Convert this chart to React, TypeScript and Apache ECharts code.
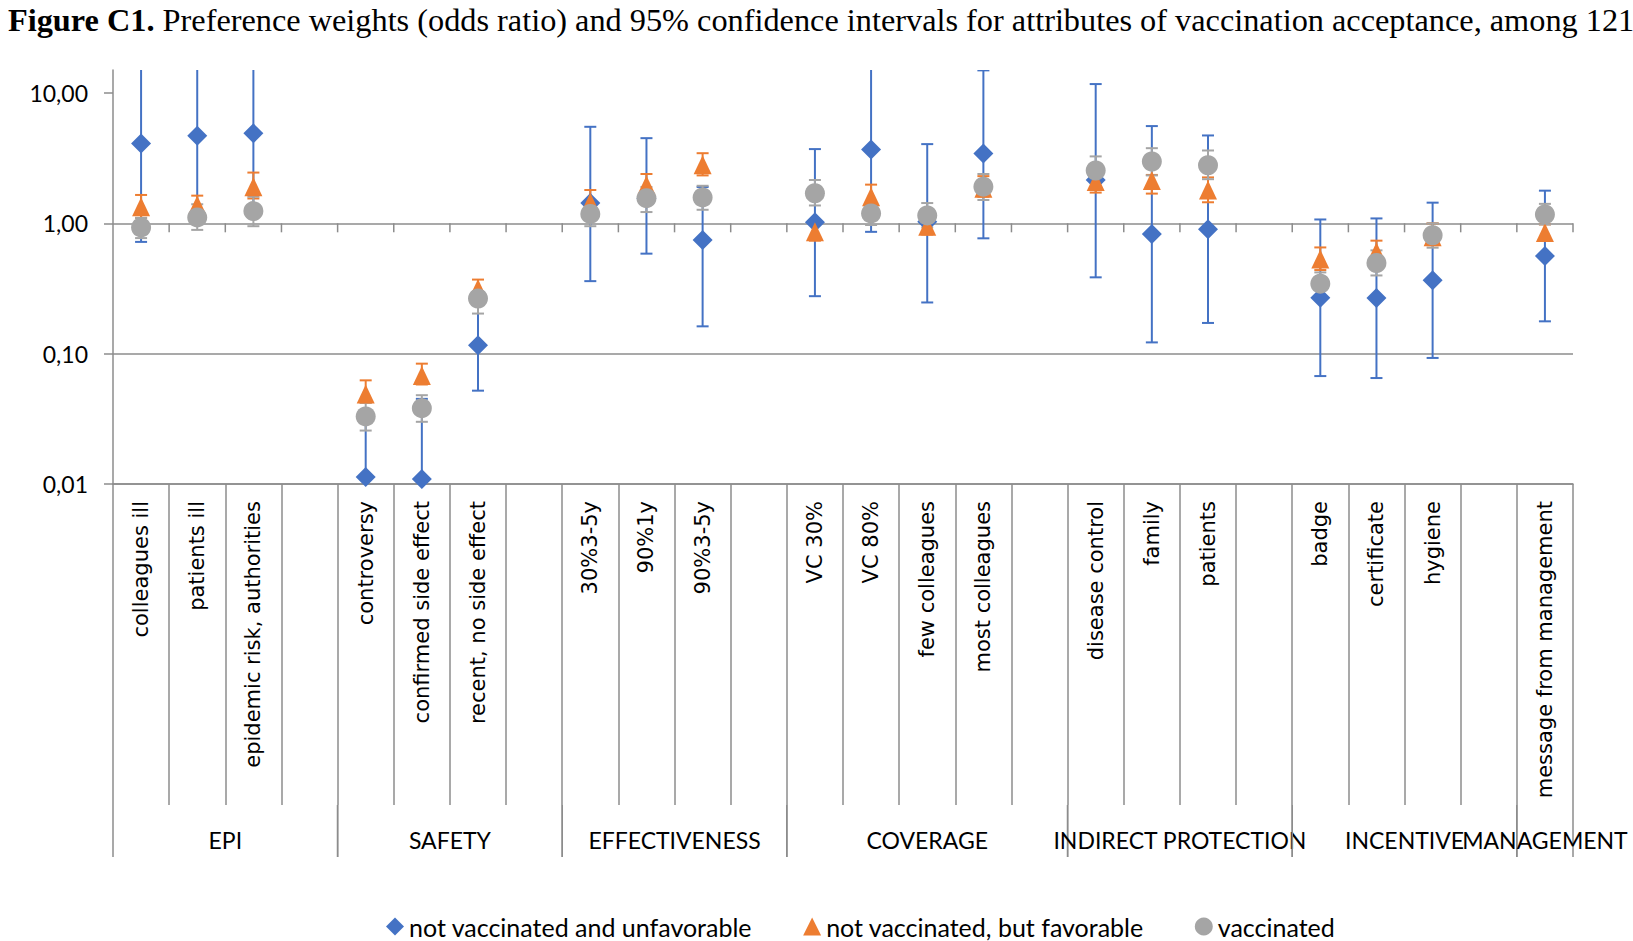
import React, { useEffect, useRef } from "react";
import * as echarts from "echarts";

const titleBold = "Figure C1.";
const titleRest =
  " Preference weights (odds ratio) and 95% confidence intervals for attributes of vaccination acceptance, among 121";

const categories = [
  "colleagues ill", "patients ill", "epidemic risk, authorities", "",
  "controversy", "confirmed side effect", "recent, no side effect", "",
  "30%3-5y", "90%1y", "90%3-5y", "",
  "VC 30%", "VC 80%", "few colleagues", "most colleagues", "",
  "disease control", "family", "patients", "",
  "badge", "certificate", "hygiene", "",
  "message from management",
];

const groupNames = ["EPI", "SAFETY", "EFFECTIVENESS", "COVERAGE", "INDIRECT PROTECTION", "INCENTIVE", "MANAGEMENT"];
const groupFirst = [0, 4, 8, 12, 17, 21, 25];
const groupLast = [3, 7, 11, 16, 20, 24, 25];

const yTicks = [0.01, 0.1, 1, 10];

const seriesNames = ["not vaccinated and unfavorable", "not vaccinated, but favorable", "vaccinated"];

// not vaccinated and unfavorable
const unfavOR = [4.1, 4.7, 4.9, null, 0.0113, 0.0109, 0.116, null, 1.43, 1.55, 0.745, null, 1.02, 3.69, 1.03, 3.43, null, 2.15, 0.828, 0.9, null, 0.268, 0.267, 0.366, null, 0.561];
const unfavLow = [0.72, 1.1, 1.3, null, 0.002, 0.002, 0.052, null, 0.36, 0.585, 0.162, null, 0.276, 0.86, 0.247, 0.767, null, 0.385, 0.122, 0.172, null, 0.0673, 0.065, 0.0927, null, 0.177];
const unfavHigh = [40, 40, 40, null, 0.035, 0.045, 0.24, null, 5.5, 4.5, 1.9, null, 3.71, 40, 4.05, 14.9, null, 11.7, 5.57, 4.72, null, 1.07, 1.09, 1.44, null, 1.78];

// not vaccinated, but favorable
const favOR = [1.34, 1.38, 1.91, null, 0.049, 0.068, 0.316, null, 1.45, 1.97, 2.81, null, 0.863, 1.6, 0.95, 1.86, null, 2.09, 2.13, 1.8, null, 0.532, 0.605, 0.79, null, 0.85];
const favLow = [1.1, 1.15, 1.55, null, 0.042, 0.058, 0.27, null, 1.2, 1.62, 2.33, null, 0.736, 1.3, 0.82, 1.6, null, 1.72, 1.69, 1.45, null, 0.438, 0.5, 0.68, null, 0.757];
const favHigh = [1.65, 1.63, 2.45, null, 0.0624, 0.0838, 0.37, null, 1.8, 2.39, 3.45, null, 1.0, 1.98, 1.1, 2.3, null, 2.5, 2.35, 2.25, null, 0.653, 0.736, 1.0, null, 0.98];

// vaccinated
const vacOR = [0.93, 1.11, 1.24, null, 0.033, 0.0382, 0.265, null, 1.18, 1.56, 1.58, null, 1.7, 1.19, 1.15, 1.91, null, 2.54, 2.98, 2.79, null, 0.344, 0.496, 0.81, null, 1.17];
const vacLow = [0.77, 0.89, 0.95, null, 0.0257, 0.03, 0.203, null, 0.95, 1.22, 1.27, null, 1.37, 0.97, 0.93, 1.51, null, 2.1, 2.33, 2.18, null, 0.28, 0.398, 0.65, null, 0.98];
const vacHigh = [1.1, 1.4, 1.6, null, 0.042, 0.048, 0.3, null, 1.47, 1.9, 1.94, null, 2.15, 1.4, 1.43, 2.39, null, 3.26, 3.77, 3.62, null, 0.42, 0.62, 1.0, null, 1.41];

const BLUE = "#4472C4";
const ORANGE = "#ED7D31";
const GRAY = "#A5A5A5";
const LINE = "#8c8c8c";
const SANS = "Lato";
const LABEL_FONT = "DejaVu Sans";

function pointData(vals: (number | null)[]) {
  const out: number[][] = [];
  vals.forEach((v, i) => {
    if (v != null) out.push([i, v]);
  });
  return out;
}

function barData(lo: (number | null)[], hi: (number | null)[]) {
  const out: number[][] = [];
  lo.forEach((v, i) => {
    if (v != null && hi[i] != null) out.push([i, v, hi[i] as number]);
  });
  return out;
}

function errorSeries(name: string, lo: (number | null)[], hi: (number | null)[], color: string) {
  return {
    type: "custom",
    name,
    clip: true,
    silent: true,
    data: barData(lo, hi),
    encode: { x: 0, y: [1, 2] },
    renderItem: (params: any, api: any) => {
      const i = api.value(0);
      const pLo = api.coord([i, api.value(1)]);
      const pHi = api.coord([i, api.value(2)]);
      const hw = 6;
      const st = { stroke: color, lineWidth: 2 };
      return {
        type: "group",
        children: [
          { type: "line", shape: { x1: pLo[0], y1: pLo[1], x2: pHi[0], y2: pHi[1] }, style: st },
          { type: "line", shape: { x1: pLo[0] - hw, y1: pLo[1], x2: pLo[0] + hw, y2: pLo[1] }, style: st },
          { type: "line", shape: { x1: pHi[0] - hw, y1: pHi[1], x2: pHi[0] + hw, y2: pHi[1] }, style: st },
        ],
      };
    },
  };
}

function pointSeries(name: string, vals: (number | null)[], color: string, symbol: string, size: any) {
  return {
    type: "scatter",
    name,
    symbol,
    symbolSize: size,
    itemStyle: { color, opacity: 1 },
    data: pointData(vals),
  };
}

export default function App() {
  const ref = useRef<HTMLDivElement>(null);
  useEffect(() => {
    document.body.style.margin = "0";
    const chart = echarts.init(ref.current as HTMLDivElement, null, { renderer: "svg" });
    const option: any = {
      animation: false,
      backgroundColor: "#ffffff",
      graphic: [
        {
          type: "text",
          left: 8,
          top: 4,
          style: {
            text: "{b|" + titleBold + "}" + titleRest,
            fontFamily: "Liberation Serif",
            fontSize: 32.3,
            fill: "#000",
            rich: { b: { fontWeight: "bold", fontFamily: "Liberation Serif", fontSize: 32.3, fill: "#000" } },
          },
        },
      ],
      grid: { left: 113, right: 60, top: 70, bottom: 457, containLabel: false },
      xAxis: {
        type: "category",
        data: categories,
        boundaryGap: true,
        axisLine: { show: true, onZero: false, lineStyle: { color: LINE, width: 1.5 } },
        axisTick: { show: true, interval: 0, alignWithLabel: false, length: 321, lineStyle: { color: LINE, width: 1.5 } },
        axisLabel: {
          interval: 0,
          rotate: 90,
          margin: 17,
          color: "#000",
          fontFamily: LABEL_FONT,
          fontSize: 21,
        },
        splitLine: { show: false },
      },
      yAxis: {
        type: "log",
        logBase: 10,
        min: 0.01,
        max: 15,
        axisLine: { show: true, lineStyle: { color: LINE, width: 1.5 } },
        axisTick: { show: true, length: 9, customValues: yTicks, lineStyle: { color: LINE, width: 1.5 } },
        axisLabel: {
          margin: 25,
          color: "#000",
          fontFamily: SANS,
          fontSize: 23,
          showMaxLabel: false,
          formatter: (v: number) => {
            const l = Math.log10(v);
            if (Math.abs(l - Math.round(l)) > 1e-6) return "";
            return v.toFixed(2).replace(".", ",");
          },
        },
        splitLine: { show: true, showMaxLine: false, lineStyle: { color: LINE, width: 1.5 } },
      },
      legend: {
        left: 381,
        top: 909,
        itemGap: 51,
        itemWidth: 18,
        itemHeight: 18,
        textStyle: { fontFamily: SANS, fontSize: 25, color: "#000" },
        data: [
          { name: seriesNames[0], icon: "diamond" },
          { name: seriesNames[1], icon: "triangle" },
          { name: seriesNames[2], icon: "circle" },
        ],
      },
      series: [
        errorSeries(seriesNames[0] + " CI", unfavLow, unfavHigh, BLUE),
        pointSeries(seriesNames[0], unfavOR, BLUE, "diamond", 20),
        errorSeries(seriesNames[1] + " CI", favLow, favHigh, ORANGE),
        pointSeries(seriesNames[1], favOR, ORANGE, "triangle", [18, 19]),
        errorSeries(seriesNames[2] + " CI", vacLow, vacHigh, GRAY),
        pointSeries(seriesNames[2], vacOR, GRAY, "circle", 20),
        {
          type: "custom",
          name: "axis ticks at 1",
          silent: true,
          clip: false,
          data: categories.map((_, i) => [i, 1]),
          encode: { x: 0, y: 1 },
          renderItem: (params: any, api: any) => {
            const i = api.value(0);
            const c = api.coord([i, 1]);
            const bw = api.coord([1, 1])[0] - api.coord([0, 1])[0];
            const st = { stroke: LINE, lineWidth: 1.5 };
            const children: any[] = [];
            if (i > 0) children.push({ type: "line", shape: { x1: c[0] - bw / 2, y1: c[1], x2: c[0] - bw / 2, y2: c[1] + 9 }, style: st });
            if (i === categories.length - 1)
              children.push({ type: "line", shape: { x1: c[0] + bw / 2, y1: c[1], x2: c[0] + bw / 2, y2: c[1] + 9 }, style: st });
            return { type: "group", children };
          },
        },
        {
          type: "custom",
          name: "groups",
          silent: true,
          clip: false,
          data: groupFirst.map((s) => [s, 1]),
          encode: { x: 0, y: 1 },
          renderItem: (params: any, api: any) => {
            const g = params.dataIndex;
            const bw = api.coord([1, 1])[0] - api.coord([0, 1])[0];
            const x0 = api.coord([groupFirst[g], 1])[0] - bw / 2;
            const x1 = api.coord([groupLast[g], 1])[0] + bw / 2;
            const base = api.coord([0, 0.01])[1];
            const st = { stroke: LINE, lineWidth: 1.5 };
            return {
              type: "group",
              children: [
                { type: "line", shape: { x1: x0, y1: base + 321, x2: x0, y2: base + 373 }, style: st },
                { type: "line", shape: { x1: x1, y1: base + 321, x2: x1, y2: base + 373 }, style: st },
                {
                  type: "text",
                  x: (x0 + x1) / 2,
                  y: base + 356,
                  style: {
                    text: groupNames[g],
                    fill: "#000",
                    fontFamily: SANS,
                    fontSize: 23,
                    align: "center",
                    verticalAlign: "middle",
                  },
                },
              ],
            };
          },
        },
      ],
    };
    chart.setOption(option);
    return () => chart.dispose();
  }, []);
  return <div ref={ref} style={{ width: 1633, height: 941 }} />;
}
